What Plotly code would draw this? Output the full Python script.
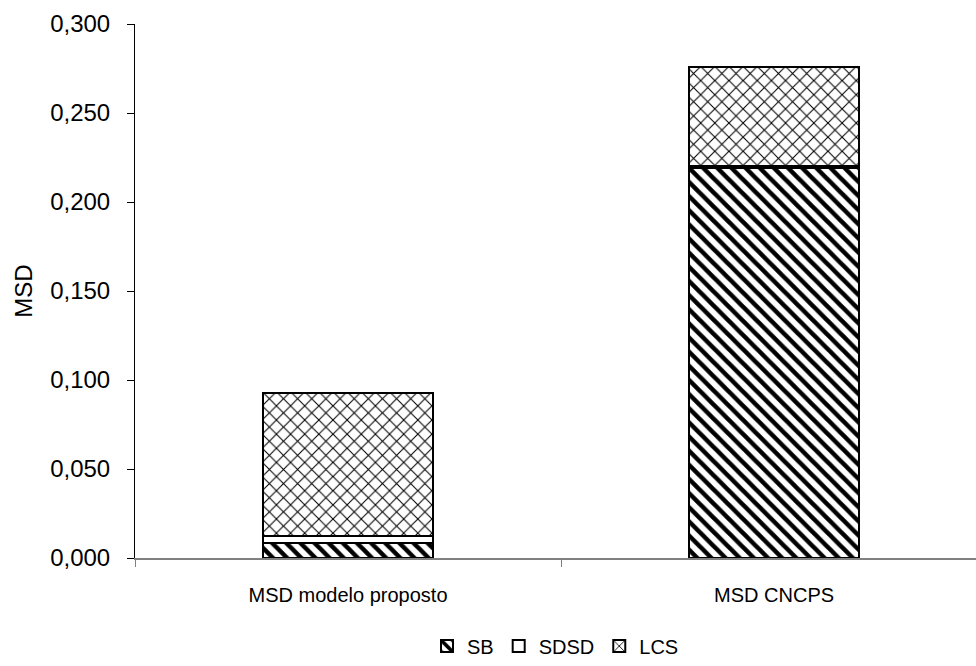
import plotly.graph_objects as go

categories = ["MSD modelo proposto", "MSD CNCPS"]
sb = [0.0083, 0.219]
sdsd = [0.0042, 0.001]
lcs = [0.080, 0.0557]

font_family = "Liberation Sans, Arial, sans-serif"

fig = go.Figure()

def add_series(name, values, shape, size, solidity):
    fig.add_trace(go.Bar(
        name=name,
        x=categories,
        y=values,
        width=0.4,
        marker=dict(
            color="white",
            line=dict(color="black", width=2),
            pattern=dict(shape=shape, fgcolor="black", bgcolor="white",
                         fgopacity=1, size=size, solidity=solidity,
                         fillmode="overlay"),
        ),
    ))

add_series("SB", sb, "\\", 10, 0.45)
add_series("SDSD", sdsd, "", 8, 0.3)
add_series("LCS", lcs, "x", 10, 0.2)

fig.update_layout(
    barmode="stack",
    width=976,
    height=666,
    margin=dict(l=135, r=0, t=24, b=108),
    paper_bgcolor="white",
    plot_bgcolor="white",
    separators=",.",
    font=dict(family=font_family, color="black"),
    showlegend=True,
    legend=dict(
        orientation="h",
        traceorder="normal",
        x=0.5, xanchor="center",
        y=-0.2015, yanchor="bottom",
        font=dict(size=20),
        itemwidth=30,
        tracegroupgap=0,
    ),
    xaxis=dict(
        range=[-0.5, 1.474],
        showline=True, linecolor="#808080", linewidth=1.5,
        ticks="outside", tickson="boundaries", ticklen=7, tickcolor="#808080",
        tickfont=dict(size=20),
        ticklabelstandoff=18,
        showgrid=False, zeroline=False,
    ),
    yaxis=dict(
        range=[0, 0.3],
        dtick=0.05,
        tickformat=".3f",
        showline=True, linecolor="black", linewidth=1,
        ticks="outside", ticklen=7, tickcolor="black",
        tickfont=dict(size=24),
        ticklabelstandoff=12,
        showgrid=False, zeroline=False,
        title=dict(text="MSD", font=dict(size=24), standoff=10),
    ),
)

fig.write_html("out.html")
